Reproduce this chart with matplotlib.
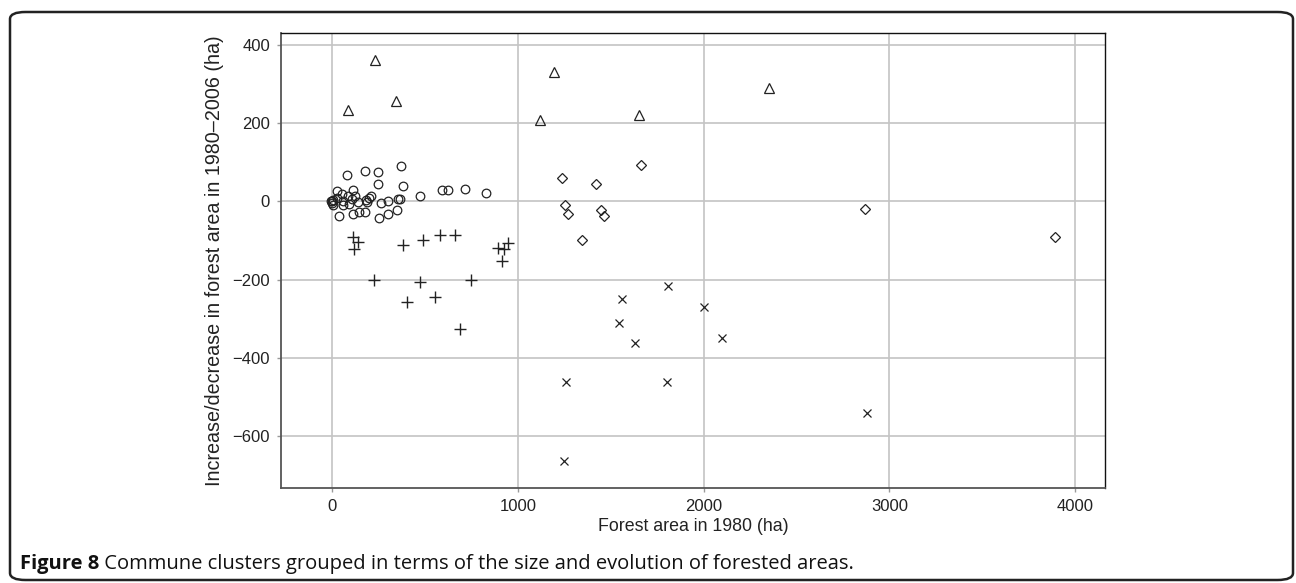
import matplotlib
matplotlib.use("Agg")
import matplotlib.pyplot as plt
from matplotlib.patches import FancyBboxPatch

# ---- data ----
circle_x = [-7, -2, 0, 4, 7, 25, 29, 36, 52, 57, 61, 79, 88, 93, 106, 111, 111, 124, 142, 147,
            178, 178, 183, 190, 201, 208, 249, 249, 255, 264, 303, 303, 348, 357, 366, 371, 380,
            474, 590, 626, 716, 827]
circle_y = [0, 2, -4, 3, -10, 28, 9, -38, 20, 1, -10, 69, 15, -6, 7, 30, -33, 15, -2, -27,
            78, -27, 3, -2, 9, 15, 75, 44, -43, -4, 1, -33, -23, 6, 6, 91, 40,
            13, 30, 30, 32, 21]

plus_x = [111, 142, 118, 380, 488, 583, 664, 895, 926, 949, 915, 228, 475, 746, 404, 555, 687]
plus_y = [-90, -103, -121, -111, -98, -85, -85, -119, -121, -106, -151, -201, -205, -200, -256, -245, -327]

tri_x = [84, 231, 343, 1120, 1195, 1650, 2350]
tri_y = [235, 362, 257, 208, 330, 222, 290]

dia_x = [1237, 1254, 1272, 1345, 1420, 1450, 1462, 1660, 2870, 3889]
dia_y = [60, -8, -32, -98, 45, -22, -38, 93, -18, -90]

cross_x = [1250, 1258, 1545, 1560, 1630, 1800, 1810, 2000, 2100, 2880]
cross_y = [-665, -462, -312, -250, -362, -462, -217, -270, -350, -540]

x_ticks = [0, 1000, 2000, 3000, 4000]
y_ticks = [-600, -400, -200, 0, 200, 400]

x_label = "Forest area in 1980 (ha)"
y_label = "Increase/decrease in forest area in 1980\u20132006 (ha)"
cap_bold = "Figure 8"
cap_rest = " Commune clusters grouped in terms of the size and evolution of forested areas."

plt.rcParams['font.family'] = ['Liberation Sans', 'DejaVu Sans']

W, H = 1296, 583
fig = plt.figure(figsize=(W / 100, H / 100), dpi=100)
ax = fig.add_axes([281 / W, 1 - 488 / H, (1105 - 281) / W, (488 - 33) / H])

ax.plot(circle_x, circle_y, 'o', mfc='none', mec='#222222', ms=6.2, mew=0.9, ls='none')
ax.plot(plus_x, plus_y, '+', color='#222222', ms=9, mew=1.0, ls='none')
ax.plot(tri_x, tri_y, '^', mfc='none', mec='#222222', ms=7, mew=0.9, ls='none')
ax.plot(dia_x, dia_y, 'D', mfc='none', mec='#222222', ms=5.5, mew=0.9, ls='none')
ax.plot(cross_x, cross_y, 'x', color='#222222', ms=6, mew=0.9, ls='none')

ax.set_xlim(-275, 4160)
ax.set_ylim(-733, 431)
ax.set_xticks(x_ticks)
ax.set_yticks(y_ticks)
ax.set_yticklabels([str(v).replace('-', '\u2212') for v in y_ticks])
ax.grid(True, color='#c4c4c4', lw=1.2)
ax.set_axisbelow(True)
ax.tick_params(length=3, width=1, color='#999999', labelsize=12, labelcolor='#222222', pad=5)
for s in ['left', 'bottom']:
    ax.spines[s].set_color('#555555')
    ax.spines[s].set_linewidth(1.3)
for s in ['top', 'right']:
    ax.spines[s].set_color('#111111')
    ax.spines[s].set_linewidth(1.0)

ax.set_xlabel(x_label, fontsize=12.8, color='#222222', labelpad=3)
ax.set_ylabel(y_label, fontsize=14.2, color='#222222', labelpad=6)

# rounded frame
frame = FancyBboxPatch((10 / W, 3 / H), (1293 - 10) / W, (571 - 3) / H,
                       boxstyle="round,pad=0,rounding_size=0.012",
                       transform=fig.transFigure, fill=False, ec='#222222', lw=1.8)
fig.patches.append(frame)

# caption
t1 = fig.text(20 / W, 1 - 569 / H, cap_bold, fontsize=14.5, fontweight='bold',
              family=['Open Sans', 'DejaVu Sans'], va='baseline', color='#111111')
fig.canvas.draw()
bb = t1.get_window_extent()
fig.text(bb.x1 / W, 1 - 569 / H, cap_rest, fontsize=14.5,
         family=['Open Sans', 'DejaVu Sans'], va='baseline', color='#111111')

fig.savefig("out.png", dpi=100)
